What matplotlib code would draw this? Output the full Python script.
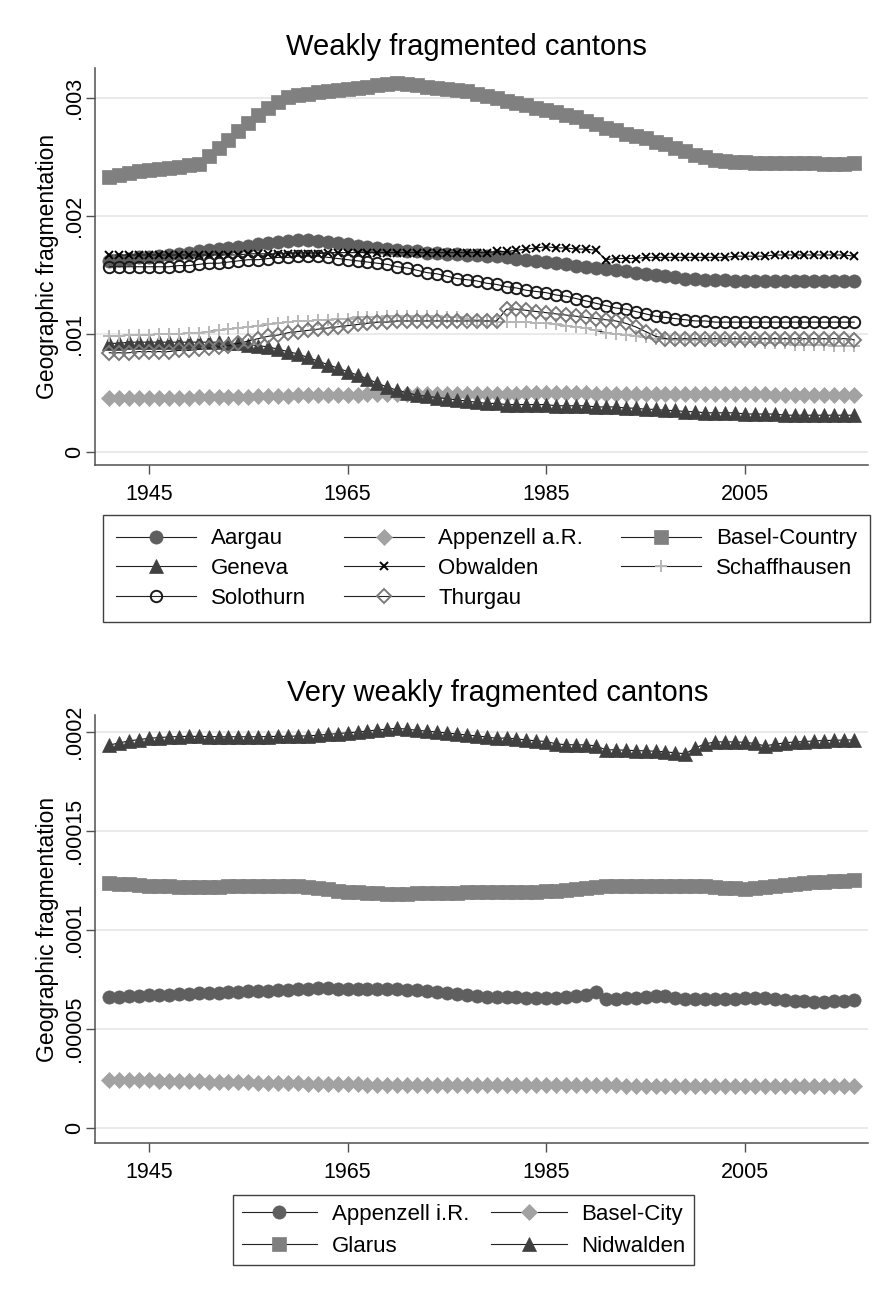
import numpy as np
import matplotlib
matplotlib.use("Agg")
import matplotlib.pyplot as plt

plt.rcParams['font.family'] = ['Liberation Sans', 'DejaVu Sans']

## years (one observation per year)
years = list(range(1941, 2017))

## top panel, values in units of 1e-3
aargau = [1.62, 1.63, 1.64, 1.65, 1.65, 1.66, 1.67, 1.68, 1.69, 1.70,
          1.71, 1.72, 1.73, 1.74, 1.75, 1.76, 1.77, 1.78, 1.79, 1.80,
          1.80, 1.79, 1.78, 1.77, 1.76, 1.75, 1.74, 1.73, 1.72, 1.71,
          1.70, 1.70, 1.69, 1.69, 1.68, 1.68, 1.67, 1.67, 1.66, 1.66,
          1.65, 1.64, 1.63, 1.62, 1.61, 1.60, 1.59, 1.58, 1.57, 1.56,
          1.55, 1.54, 1.53, 1.52, 1.51, 1.50, 1.49, 1.48, 1.47, 1.47,
          1.46, 1.46, 1.46, 1.45, 1.45, 1.45, 1.45, 1.45, 1.45, 1.45,
          1.45, 1.45, 1.45, 1.45, 1.45, 1.45]
appenzell_ar = [0.455, 0.455, 0.455, 0.455, 0.456, 0.457, 0.458, 0.459, 0.460, 0.461,
                0.462, 0.463, 0.464, 0.466, 0.468, 0.470, 0.472, 0.474, 0.476, 0.478,
                0.480, 0.481, 0.482, 0.483, 0.484, 0.485, 0.486, 0.487, 0.488, 0.489,
                0.490, 0.490, 0.491, 0.491, 0.492, 0.492, 0.493, 0.493, 0.494, 0.494,
                0.494, 0.494, 0.495, 0.495, 0.495, 0.495, 0.495, 0.495, 0.495, 0.494,
                0.494, 0.493, 0.493, 0.492, 0.492, 0.491, 0.491, 0.490, 0.490, 0.489,
                0.489, 0.488, 0.488, 0.487, 0.487, 0.486, 0.486, 0.485, 0.485, 0.484,
                0.484, 0.483, 0.483, 0.482, 0.482, 0.481]
basel_country = [2.33, 2.35, 2.37, 2.38, 2.39, 2.40, 2.41, 2.42, 2.43, 2.44,
                 2.51, 2.58, 2.65, 2.72, 2.79, 2.86, 2.92, 2.97, 3.01, 3.03,
                 3.04, 3.05, 3.06, 3.07, 3.08, 3.09, 3.10, 3.11, 3.12, 3.13,
                 3.12, 3.11, 3.10, 3.09, 3.08, 3.07, 3.06, 3.04, 3.02, 3.00,
                 2.98, 2.96, 2.94, 2.92, 2.90, 2.88, 2.86, 2.84, 2.81, 2.78,
                 2.75, 2.73, 2.70, 2.68, 2.66, 2.63, 2.61, 2.58, 2.55, 2.52,
                 2.50, 2.48, 2.47, 2.46, 2.46, 2.45, 2.45, 2.45, 2.45, 2.45,
                 2.45, 2.45, 2.44, 2.44, 2.44, 2.45]
geneva = [0.92, 0.92, 0.93, 0.93, 0.93, 0.93, 0.93, 0.93, 0.93, 0.93,
          0.93, 0.93, 0.92, 0.92, 0.91, 0.90, 0.89, 0.87, 0.85, 0.83,
          0.80, 0.77, 0.74, 0.71, 0.68, 0.65, 0.62, 0.58, 0.55, 0.52,
          0.50, 0.48, 0.47, 0.46, 0.45, 0.44, 0.43, 0.42, 0.41, 0.41,
          0.40, 0.40, 0.40, 0.40, 0.40, 0.39, 0.39, 0.39, 0.39, 0.38,
          0.38, 0.38, 0.37, 0.37, 0.36, 0.36, 0.35, 0.35, 0.34, 0.34,
          0.33, 0.33, 0.33, 0.33, 0.32, 0.32, 0.32, 0.32, 0.31, 0.31,
          0.31, 0.31, 0.31, 0.31, 0.31, 0.31]
obwalden = [1.67, 1.67, 1.67, 1.67, 1.67, 1.67, 1.67, 1.67, 1.67, 1.67,
            1.67, 1.67, 1.67, 1.67, 1.68, 1.68, 1.68, 1.68, 1.68, 1.68,
            1.68, 1.68, 1.69, 1.69, 1.69, 1.69, 1.69, 1.69, 1.69, 1.69,
            1.69, 1.69, 1.69, 1.69, 1.69, 1.69, 1.69, 1.69, 1.69, 1.70,
            1.70, 1.71, 1.72, 1.73, 1.74, 1.73, 1.73, 1.72, 1.72, 1.71,
            1.63, 1.64, 1.64, 1.64, 1.65, 1.65, 1.65, 1.65, 1.65, 1.65,
            1.65, 1.65, 1.65, 1.66, 1.66, 1.66, 1.66, 1.67, 1.67, 1.67,
            1.67, 1.67, 1.67, 1.67, 1.67, 1.66]
schaffhausen = [0.98, 0.98, 0.99, 0.99, 0.99, 1.00, 1.00, 1.00, 1.01, 1.01,
                1.02, 1.03, 1.04, 1.05, 1.06, 1.07, 1.08, 1.09, 1.10, 1.11,
                1.11, 1.12, 1.12, 1.13, 1.13, 1.14, 1.14, 1.14, 1.15, 1.15,
                1.15, 1.15, 1.15, 1.15, 1.14, 1.14, 1.13, 1.12, 1.11, 1.10,
                1.10, 1.10, 1.10, 1.09, 1.09, 1.08, 1.07, 1.06, 1.05, 1.03,
                1.01, 1.00, 0.99, 0.98, 0.97, 0.96, 0.96, 0.95, 0.95, 0.95,
                0.94, 0.94, 0.94, 0.93, 0.93, 0.93, 0.92, 0.92, 0.92, 0.91,
                0.91, 0.91, 0.91, 0.90, 0.90, 0.90]
solothurn = [1.57, 1.57, 1.57, 1.57, 1.57, 1.57, 1.57, 1.58, 1.58, 1.59,
             1.60, 1.60, 1.61, 1.62, 1.63, 1.63, 1.64, 1.65, 1.65, 1.66,
             1.66, 1.66, 1.65, 1.64, 1.63, 1.62, 1.61, 1.60, 1.59, 1.57,
             1.56, 1.54, 1.52, 1.51, 1.49, 1.47, 1.46, 1.45, 1.43, 1.42,
             1.40, 1.39, 1.37, 1.36, 1.35, 1.33, 1.32, 1.30, 1.28, 1.26,
             1.24, 1.22, 1.21, 1.19, 1.17, 1.15, 1.14, 1.13, 1.12, 1.11,
             1.11, 1.10, 1.10, 1.10, 1.10, 1.10, 1.10, 1.10, 1.10, 1.10,
             1.10, 1.10, 1.10, 1.10, 1.10, 1.10]
thurgau = [0.84, 0.84, 0.84, 0.85, 0.85, 0.85, 0.85, 0.86, 0.86, 0.87,
           0.88, 0.89, 0.90, 0.92, 0.94, 0.96, 0.98, 0.99, 1.01, 1.02,
           1.03, 1.04, 1.05, 1.06, 1.07, 1.08, 1.09, 1.10, 1.10, 1.11,
           1.11, 1.11, 1.11, 1.11, 1.11, 1.11, 1.11, 1.11, 1.11, 1.11,
           1.21, 1.21, 1.20, 1.19, 1.18, 1.17, 1.16, 1.15, 1.14, 1.13,
           1.12, 1.11, 1.09, 1.06, 1.02, 0.98, 0.96, 0.96, 0.96, 0.96,
           0.96, 0.96, 0.96, 0.96, 0.96, 0.96, 0.96, 0.96, 0.96, 0.96,
           0.96, 0.96, 0.96, 0.96, 0.96, 0.95]

## bottom panel, values in units of 1e-5
appenzell_ir = [6.63, 6.65, 6.67, 6.69, 6.71, 6.73, 6.75, 6.77, 6.79, 6.81,
                6.83, 6.85, 6.87, 6.89, 6.91, 6.93, 6.95, 6.97, 7.00, 7.03,
                7.05, 7.06, 7.06, 7.05, 7.05, 7.05, 7.05, 7.04, 7.03, 7.02,
                7.00, 6.97, 6.93, 6.88, 6.83, 6.78, 6.72, 6.67, 6.63, 6.62,
                6.62, 6.61, 6.60, 6.59, 6.58, 6.60, 6.63, 6.67, 6.72, 6.86,
                6.52, 6.55, 6.57, 6.60, 6.63, 6.66, 6.66, 6.60, 6.55, 6.53,
                6.52, 6.52, 6.53, 6.55, 6.57, 6.58, 6.57, 6.55, 6.50, 6.45,
                6.42, 6.40, 6.40, 6.42, 6.45, 6.47]
basel_city = [2.46, 2.45, 2.44, 2.43, 2.42, 2.41, 2.40, 2.39, 2.38, 2.37,
              2.36, 2.35, 2.34, 2.33, 2.32, 2.31, 2.30, 2.29, 2.28, 2.27,
              2.26, 2.25, 2.24, 2.23, 2.22, 2.22, 2.21, 2.21, 2.20, 2.20,
              2.20, 2.19, 2.19, 2.19, 2.18, 2.18, 2.18, 2.18, 2.17, 2.17,
              2.17, 2.17, 2.17, 2.17, 2.17, 2.17, 2.17, 2.17, 2.17, 2.17,
              2.17, 2.17, 2.16, 2.16, 2.16, 2.16, 2.16, 2.16, 2.16, 2.16,
              2.16, 2.16, 2.16, 2.16, 2.16, 2.16, 2.15, 2.15, 2.15, 2.15,
              2.15, 2.15, 2.15, 2.15, 2.15, 2.15]
glarus = [12.36, 12.34, 12.31, 12.28, 12.25, 12.23, 12.21, 12.20, 12.19, 12.19,
          12.20, 12.20, 12.21, 12.21, 12.22, 12.22, 12.23, 12.23, 12.23, 12.23,
          12.20, 12.13, 12.06, 12.00, 11.95, 11.91, 11.88, 11.86, 11.85, 11.85,
          11.85, 11.86, 11.87, 11.88, 11.89, 11.90, 11.91, 11.92, 11.93, 11.93,
          11.93, 11.93, 11.94, 11.95, 11.96, 11.98, 12.02, 12.07, 12.12, 12.17,
          12.22, 12.24, 12.25, 12.25, 12.24, 12.23, 12.22, 12.22, 12.23, 12.24,
          12.22, 12.18, 12.15, 12.12, 12.10, 12.12, 12.18, 12.24, 12.30, 12.35,
          12.38, 12.41, 12.44, 12.47, 12.50, 12.53]
nidwalden = [19.34, 19.45, 19.55, 19.62, 19.68, 19.72, 19.75, 19.77, 19.78, 19.78,
             19.77, 19.76, 19.76, 19.76, 19.76, 19.76, 19.77, 19.78, 19.78, 19.80,
             19.80, 19.84, 19.88, 19.92, 19.96, 20.00, 20.05, 20.10, 20.15, 20.19,
             20.14, 20.09, 20.04, 20.00, 19.95, 19.90, 19.85, 19.80, 19.75, 19.68,
             19.70, 19.65, 19.60, 19.55, 19.52, 19.40, 19.36, 19.35, 19.35, 19.30,
             19.10, 19.10, 19.08, 19.06, 19.05, 19.03, 19.00, 18.95, 18.90, 19.20,
             19.40, 19.50, 19.50, 19.50, 19.48, 19.42, 19.30, 19.38, 19.45, 19.50,
             19.52, 19.55, 19.57, 19.58, 19.60, 19.60]

## series styles: (label, data, marker, size, face, edge)
top_series = [
    ('Aargau', aargau, 'o', 9.5, '#5f5f5f', '#5f5f5f'),
    ('Appenzell a.R.', appenzell_ar, 'D', 8.3, '#a2a2a2', '#a2a2a2'),
    ('Basel-Country', basel_country, 's', 9.5, '#808080', '#808080'),
    ('Geneva', geneva, '^', 9.5, '#404040', '#404040'),
    ('Obwalden', obwalden, 'x', 6.3, 'k', 'k'),
    ('Schaffhausen', schaffhausen, '+', 8.5, '#b8b8b8', '#b8b8b8'),
    ('Solothurn', solothurn, 'o', 8.2, 'none', '#1a1a1a'),
    ('Thurgau', thurgau, 'D', 7.6, 'none', '#7a7a7a'),
]
bottom_series = [
    ('Appenzell i.R.', appenzell_ir, 'o', 9.5, '#5f5f5f', '#5f5f5f'),
    ('Basel-City', basel_city, 'D', 8.3, '#a2a2a2', '#a2a2a2'),
    ('Glarus', glarus, 's', 9.5, '#808080', '#808080'),
    ('Nidwalden', nidwalden, '^', 9.5, '#404040', '#404040'),
]

axis_col = '#505050'

fig = plt.figure(figsize=(8.81, 12.91), dpi=100)
ax1 = fig.add_axes([0.1078, 0.6398, 0.8775, 0.3075])
ax2 = fig.add_axes([0.1078, 0.1146, 0.8775, 0.3316])


def style_axes(ax, ticks, ticklabels, ylim):
    ax.set_xlim(1939.56, 2017.4)
    ax.set_ylim(*ylim)
    ax.set_xticks([1945, 1965, 1985, 2005])
    ax.set_yticks(ticks)
    ax.set_yticklabels(ticklabels, rotation=90, va='center')
    ax.grid(axis='y', color='#e8e8e8', linewidth=1.3)
    ax.set_axisbelow(True)
    for side in ['top', 'right']:
        ax.spines[side].set_visible(False)
    for side in ['left', 'bottom']:
        ax.spines[side].set_color(axis_col)
        ax.spines[side].set_linewidth(1.1)
    ax.tick_params(axis='both', direction='out', length=6.5, width=1.0,
                   color=axis_col, labelsize=15.5, labelcolor='black')
    ax.tick_params(axis='x', pad=7)
    ax.tick_params(axis='y', pad=0.5)
    ax.set_ylabel('Geographic fragmentation', fontsize=16.5)
    ax.yaxis.set_label_coords(-0.047, 0.5)


def draw(ax, series, scale):
    handles = {}
    for label, vals, mk, ms, fc, ec in series:
        h, = ax.plot(years, np.array(vals) * scale, color='#111111', linewidth=0.8,
                     marker=mk, markersize=ms, markerfacecolor=fc,
                     markeredgecolor=ec, markeredgewidth=1.4 if fc == 'none' or mk in 'x+' else 0.5,
                     label=label, clip_on=False)
        handles[label] = h
    return handles


def legend_style(leg):
    leg.get_frame().set_linewidth(1.0)
    for lh in leg.get_lines():
        lh.set_color('#222222')


## top panel
h1 = draw(ax1, top_series, 1e-3)
style_axes(ax1, [0, 0.001, 0.002, 0.003], ['0', '.001', '.002', '.003'], (-0.000113, 0.003257))
fig.text(0.53, 1 - 47 / 1291, 'Weakly fragmented cantons', ha='center', va='center', fontsize=21)
## matplotlib fills columns first, so order handles to read row by row
order1 = ['Aargau', 'Geneva', 'Solothurn', 'Appenzell a.R.', 'Obwalden', 'Thurgau',
          'Basel-Country', 'Schaffhausen']
leg1 = fig.legend(handles=[h1[k] for k in order1], loc='upper left', ncol=3, mode='expand',
                  bbox_to_anchor=(103 / 881, 1 - 515 / 1291 - 0.01, 767 / 881, 0.01),
                  fontsize=16, handlelength=3.6, handletextpad=0.65, labelspacing=0.4,
                  borderpad=0.6, borderaxespad=0, fancybox=False, framealpha=1,
                  edgecolor='#404040')
legend_style(leg1)

## bottom panel
h2 = draw(ax2, bottom_series, 1e-5)
style_axes(ax2, [0, 0.00005, 0.0001, 0.00015, 0.0002],
           ['0', '.00005', '.0001', '.00015', '.0002'], (-0.0000074, 0.0002086))
fig.text(0.565, 1 - 693 / 1291, 'Very weakly fragmented cantons', ha='center', va='center', fontsize=21)
order2 = ['Appenzell i.R.', 'Glarus', 'Basel-City', 'Nidwalden']
leg2 = fig.legend(handles=[h2[k] for k in order2], loc='upper center', ncol=2,
                  bbox_to_anchor=(463.5 / 881, 1 - 1195 / 1291),
                  fontsize=16, handlelength=3.4, handletextpad=0.65, labelspacing=0.48,
                  columnspacing=1.0, borderpad=0.4, borderaxespad=0, fancybox=False,
                  framealpha=1, edgecolor='#404040')
legend_style(leg2)

fig.savefig('out.png', dpi=100, facecolor='white')
